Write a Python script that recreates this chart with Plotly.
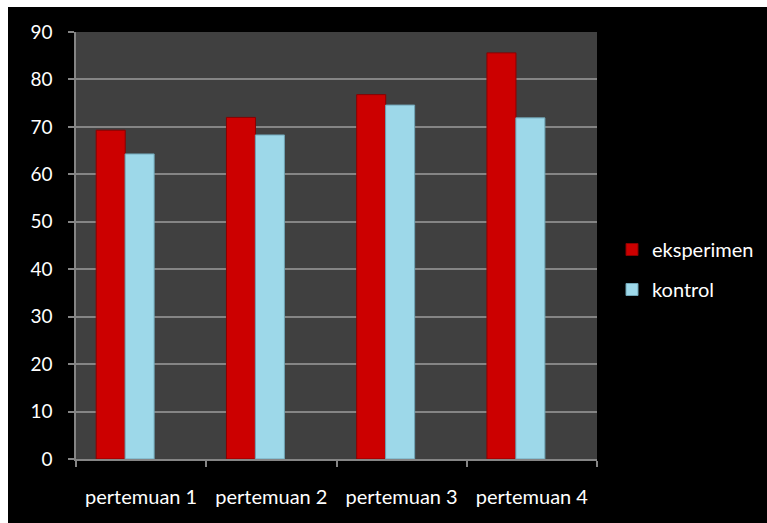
import plotly.graph_objects as go

categories = ["pertemuan 1", "pertemuan 2", "pertemuan 3", "pertemuan 4"]
eksperimen = [69.3, 72.0, 76.8, 85.6]
kontrol = [64.3, 68.3, 74.6, 71.9]
y_ticks = [0, 10, 20, 30, 40, 50, 60, 70, 80, 90]

W, H = 767, 523
ML, MR, MT, MB = 76, 170, 32, 64
PW, PH = W - ML - MR, H - MT - MB

def px_x(px):
    return (px - ML) / PW

def px_y(py):
    return (H - MB - py) / PH

FONT = "Lato"
GRID = "#858585"

fig = go.Figure()
fig.add_trace(go.Bar(
    x=categories, y=eksperimen, name="eksperimen",
    width=0.223, offset=-0.345,
    marker=dict(color="#CC0000", line=dict(color="#8A0000", width=1)),
    legendgroup="a",
))
fig.add_trace(go.Bar(
    x=categories, y=kontrol, name="kontrol",
    width=0.223, offset=-0.123,
    marker=dict(color="#9DD8E9", line=dict(color="#6FA5B6", width=1)),
    legendgroup="b",
))

fig.update_layout(
    width=W, height=H,
    margin=dict(l=ML, r=MR, t=MT, b=MB, pad=0, autoexpand=False),
    paper_bgcolor="#000000",
    plot_bgcolor="#404040",
    font=dict(family=FONT, size=19, color="#FFFFFF"),
    barmode="overlay",
    showlegend=True,
    legend=dict(
        x=px_x(612), xanchor="left",
        y=px_y(230), yanchor="top",
        font=dict(family=FONT, size=20, color="#FFFFFF"),
        bgcolor="rgba(0,0,0,0)",
        tracegroupgap=11,
        traceorder="grouped",
        itemwidth=30,
    ),
    xaxis=dict(
        type="category",
        range=[-0.5, 3.5],
        showgrid=False,
        showline=True, linecolor=GRID, linewidth=1.5,
        ticks="outside", tickson="boundaries", ticklen=6,
        tickcolor=GRID, tickwidth=1.5,
        ticklabelstandoff=19,
        tickfont=dict(family=FONT, size=20, color="#FFFFFF"),
    ),
    yaxis=dict(
        range=[0, 90],
        tickvals=y_ticks,
        showgrid=True, gridcolor=GRID, gridwidth=1.5,
        showline=True, linecolor=GRID, linewidth=1.5,
        zeroline=False,
        ticks="outside", ticklen=6, tickcolor=GRID, tickwidth=1.5,
        ticklabelstandoff=12,
        tickfont=dict(family=FONT, size=19, color="#FFFFFF"),
    ),
    shapes=[
        dict(type="rect", xref="paper", yref="paper",
             x0=px_x(0), x1=px_x(W), y0=px_y(7), y1=px_y(0),
             fillcolor="#FFFFFF", line=dict(width=0), layer="above"),
        dict(type="rect", xref="paper", yref="paper",
             x0=px_x(0), x1=px_x(8), y0=px_y(H), y1=px_y(0),
             fillcolor="#FFFFFF", line=dict(width=0), layer="above"),
    ],
)

fig.write_html("out.html")
